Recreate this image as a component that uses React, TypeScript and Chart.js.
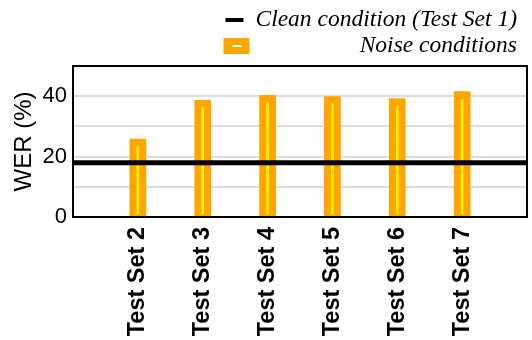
import React, { useEffect, useRef } from 'react';
import { Chart, registerables } from 'chart.js';

Chart.register(...registerables);

const categories = ['Test Set 2', 'Test Set 3', 'Test Set 4', 'Test Set 5', 'Test Set 6', 'Test Set 7'];
const noiseWER = [25.8, 38.6, 40.3, 39.9, 39.2, 41.5];
const innerLow = [1, 1, 1, 1, 1, 1];
const innerHigh = [23.3, 36.1, 37.8, 37.5, 36.7, 38.9];
const cleanWER = 18;
const yTickLabels = [0, 20, 40];
const cleanLabel = 'Clean condition (Test Set 1)';
const noiseLabel = 'Noise conditions';

const ORANGE = '#FFA500';
const YELLOW = '#FFF200';

const framePlugin = {
  id: 'frameAndLegend',
  afterDraw(chart: any) {
    const { ctx, chartArea } = chart;
    ctx.save();
    ctx.strokeStyle = '#000';
    ctx.lineWidth = 2;
    ctx.strokeRect(chartArea.left, chartArea.top, chartArea.right - chartArea.left, chartArea.bottom - chartArea.top);

    // legend
    const textRight = chartArea.right - 10;
    const row1 = chartArea.top - 46;
    const row2 = chartArea.top - 20;
    ctx.font = 'italic 23.5px "Liberation Serif", "Times New Roman", serif';
    ctx.fillStyle = '#000';
    ctx.textBaseline = 'middle';
    const w1 = ctx.measureText(cleanLabel).width;
    const t1Left = textRight - w1;
    ctx.textAlign = 'left';
    ctx.fillText(cleanLabel, t1Left, row1);
    const symRight = t1Left - 12;
    const symLeft = symRight - 18;
    ctx.strokeStyle = '#000';
    ctx.lineWidth = 4;
    ctx.beginPath();
    ctx.moveTo(symLeft, row1);
    ctx.lineTo(symRight, row1);
    ctx.stroke();

    ctx.textAlign = 'right';
    ctx.fillText(noiseLabel, textRight, row2);
    const boxLeft = symLeft - 2;
    ctx.fillStyle = ORANGE;
    ctx.fillRect(boxLeft, row2 - 8, 26, 16);
    ctx.strokeStyle = '#fff';
    ctx.lineWidth = 2;
    ctx.beginPath();
    ctx.moveTo(boxLeft + 9, row2);
    ctx.lineTo(boxLeft + 18, row2);
    ctx.stroke();
    ctx.restore();
  },
};

export default function App() {
  const ref = useRef<HTMLCanvasElement | null>(null);
  useEffect(() => {
    if (!ref.current) return;
    const labels = ['', ...categories, ''];
    const chart = new Chart(ref.current, {
      type: 'bar',
      data: {
        labels,
        datasets: [
          {
            type: 'line',
            label: cleanLabel,
            data: labels.map(() => cleanWER),
            borderColor: '#000',
            borderWidth: 5,
            pointRadius: 0,
            order: 0,
          } as any,
          {
            label: 'inner',
            data: [null, ...innerLow.map((l, i) => [l, innerHigh[i]]), null],
            backgroundColor: YELLOW,
            barThickness: 2,
            grouped: false,
            order: 1,
          } as any,
          {
            label: noiseLabel,
            data: [null, ...noiseWER, null],
            backgroundColor: ORANGE,
            barThickness: 16,
            grouped: false,
            order: 2,
          } as any,
        ],
      },
      options: {
        animation: false,
        responsive: false,
        maintainAspectRatio: false,
        layout: { padding: { top: 66, right: 5, left: 0, bottom: 0 } },
        plugins: { legend: { display: false }, tooltip: { enabled: false } },
        scales: {
          x: {
            type: 'category',
            offset: false,
            grid: { display: false, drawTicks: false },
            border: { display: false },
            ticks: {
              color: '#000',
              font: { family: '"Liberation Sans", Arial, sans-serif', size: 23.5, weight: 'bold' },
              minRotation: 90,
              maxRotation: 90,
              autoSkip: false,
              padding: 10,
            },
            afterFit: (scale: any) => {
              scale.height = 123;
              scale.paddingLeft = 0;
              scale.paddingRight = 0;
            },
          },
          y: {
            min: 0,
            max: 50,
            grid: { color: '#dcdcdc', lineWidth: 2, drawTicks: false },
            border: { display: false },
            ticks: {
              stepSize: 10,
              color: '#000',
              padding: 6,
              font: { family: '"Liberation Sans", Arial, sans-serif', size: 22 },
              callback: (v: any) => (yTickLabels.includes(Number(v)) ? String(v) : ''),
            },
            title: {
              display: true,
              text: 'WER (%)',
              color: '#000',
              font: { family: '"Liberation Sans", Arial, sans-serif', size: 24 },
              padding: { top: 9.5, bottom: 0 },
            },
            afterFit: (scale: any) => {
              scale.width = 73;
              scale.paddingTop = 0;
              scale.paddingBottom = 0;
            },
          },
        },
      },
      plugins: [framePlugin],
    });
    return () => chart.destroy();
  }, []);
  return (
    <div style={{ position: 'absolute', left: 0, top: 0, width: 532, height: 340 }}>
      <canvas ref={ref} width={532} height={340} style={{ width: 532, height: 340 }} />
    </div>
  );
}
